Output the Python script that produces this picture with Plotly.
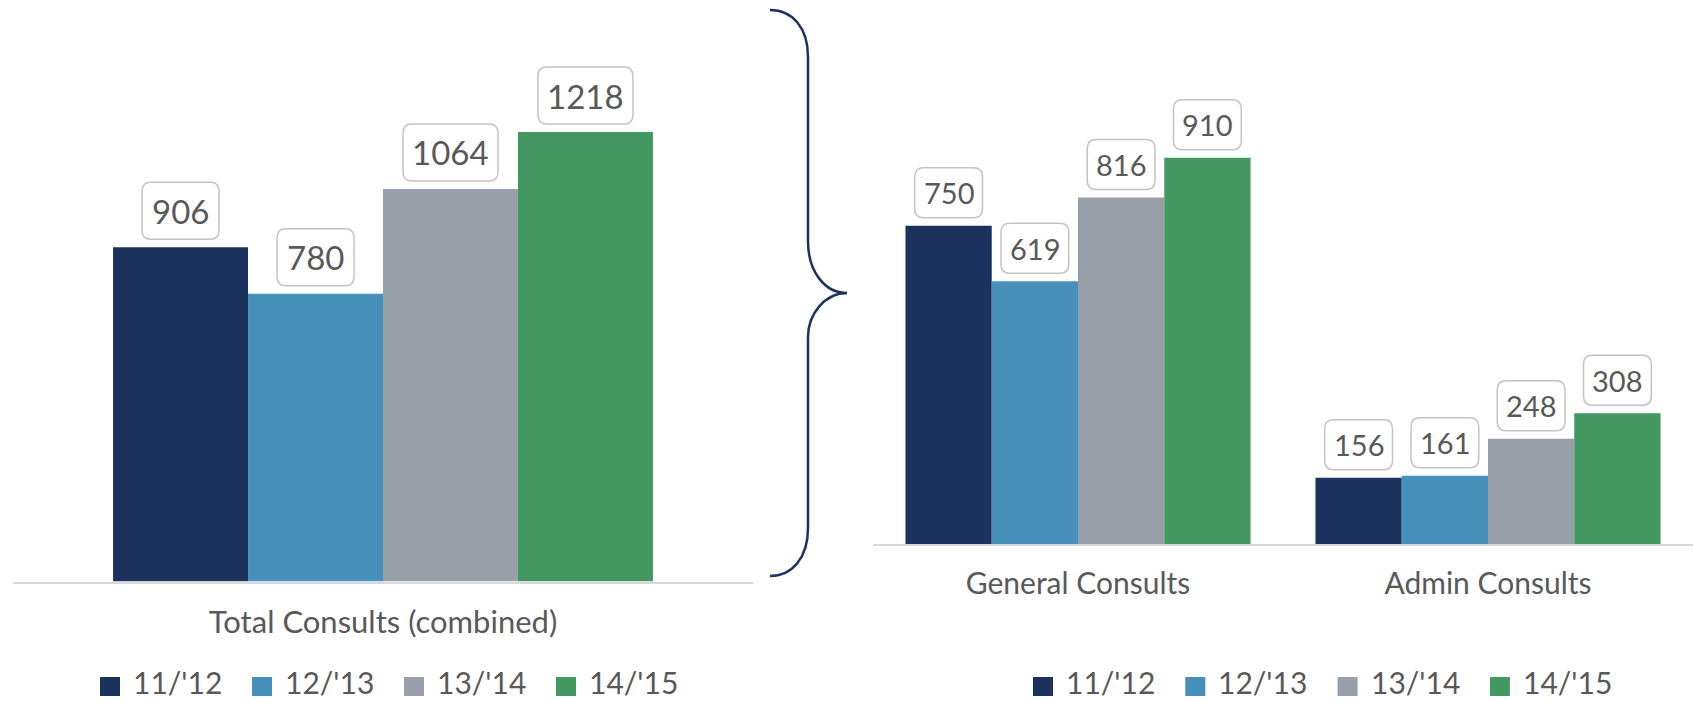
import plotly.graph_objects as go

# ---------------- data ----------------
series = ["11/'12", "12/'13", "13/'14", "14/'15"]
colors = ["#1b325f", "#4690b9", "#989fa8", "#439760"]

total_categories = ["Total Consults (combined)"]
total_values = [906, 780, 1064, 1218]          # one per series

split_categories = ["General Consults", "Admin Consults"]
general_values = [750, 619, 816, 910]          # one per series
admin_values = [156, 161, 248, 308]            # one per series

# ---------------- layout constants ----------------
W, H = 1693, 702
FONT = "Lato, 'Open Sans', sans-serif"
TXT = "#595959"

def px_x(x):
    return x / W

def px_y(y):
    return 1 - y / H

wL = 0.1824   # bar width (data units) left panel
wR = 0.2104   # bar width (data units) right panel

fig = go.Figure()

# left panel bars
for i, name in enumerate(series):
    fig.add_trace(go.Bar(
        x=[0], y=[total_values[i]], name=name,
        width=wL, offset=-2 * wL + i * wL,
        marker=dict(color=colors[i], line=dict(width=0)),
        xaxis="x", yaxis="y", showlegend=False, hoverinfo="skip",
    ))

# right panel bars
for i, name in enumerate(series):
    fig.add_trace(go.Bar(
        x=[0, 1], y=[general_values[i], admin_values[i]], name=name,
        width=wR, offset=-2 * wR + i * wR,
        marker=dict(color=colors[i], line=dict(width=0)),
        xaxis="x2", yaxis="y2", showlegend=False, hoverinfo="skip",
    ))

shapes = []
annotations = []

def rounded_box(hw, g, bh, r):
    return (f"M{-hw + r},{g} L{hw - r},{g} Q{hw},{g} {hw},{g + r} "
            f"L{hw},{g + bh - r} Q{hw},{g + bh} {hw - r},{g + bh} "
            f"L{-hw + r},{g + bh} Q{-hw},{g + bh} {-hw},{g + bh - r} "
            f"L{-hw},{g + r} Q{-hw},{g} {-hw + r},{g} Z")

def add_label(xref, yref, cx, val, font_size, box_h, pad, digit_w, gap):
    txt = str(val)
    bw = pad + digit_w * len(txt)
    shapes.append(dict(
        type="path", xref=xref, yref=yref,
        xsizemode="pixel", ysizemode="pixel",
        xanchor=cx, yanchor=val,
        path=rounded_box(bw / 2, gap, box_h, 9),
        fillcolor="white", line=dict(color="#c4c4c4", width=1.5),
        layer="above",
    ))
    annotations.append(dict(
        x=cx, y=val, xref=xref, yref=yref, text=txt, showarrow=False,
        yshift=gap + box_h / 2, yanchor="middle", xanchor="center",
        font=dict(family=FONT, size=font_size, color=TXT),
    ))

for i in range(len(series)):
    cx = 0 - 2 * wL + i * wL + wL / 2
    add_label("x", "y", cx, total_values[i], 33, 57, 23, 18, 8)

for c, vals in enumerate([general_values, admin_values]):
    for i in range(len(series)):
        cx = c - 2 * wR + i * wR + wR / 2
        add_label("x2", "y2", cx, vals[i], 29, 50, 21, 15.6, 8)

# brace
brace_pts = [
    ("M", [(770, 10)]),
    ("C", [(792, 10), (808, 27), (808, 57)]),
    ("L", [(808, 241)]),
    ("C", [(808, 272), (825, 293), (847, 293)]),
    ("C", [(825, 293), (808, 314), (808, 337)]),
    ("L", [(808, 528)]),
    ("C", [(808, 558), (792, 576), (770, 576)]),
]
path = " ".join(cmd + " ".join(f"{px_x(x):.5f},{px_y(y):.5f}" for x, y in pts)
                for cmd, pts in brace_pts)
shapes.append(dict(type="path", xref="paper", yref="paper", path=path,
                   line=dict(color="#1b325f", width=2.5)))

# custom legends
def add_legend(x_start, spacing):
    for i, name in enumerate(series):
        x0 = x_start + i * spacing
        shapes.append(dict(type="rect", xref="paper", yref="paper",
                           x0=px_x(x0), x1=px_x(x0 + 20),
                           y0=px_y(696), y1=px_y(677),
                           fillcolor=colors[i], line=dict(width=0)))
        annotations.append(dict(x=px_x(x0 + 31), y=0, xref="paper", yref="paper",
                                text=name, showarrow=False, xanchor="left", yanchor="bottom",
                                font=dict(family=FONT, size=30, color=TXT)))

add_legend(100, 152)
add_legend(1033, 152.3)

axis_common = dict(showgrid=False, zeroline=False, showline=True,
                   linecolor="#d9d9d9", linewidth=2, ticks="",
                   automargin=False, fixedrange=True)
yaxis_common = dict(showgrid=False, zeroline=False, showline=False,
                    showticklabels=False, automargin=False, fixedrange=True)

fig.update_layout(
    width=W, height=H,
    margin=dict(l=0, r=0, t=0, b=0),
    paper_bgcolor="white", plot_bgcolor="white",
    showlegend=False,
    barmode="overlay",
    xaxis=dict(domain=[px_x(13), px_x(753)], range=[-0.5, 0.5],
               tickvals=[0], ticktext=total_categories,
               tickfont=dict(family=FONT, size=31, color=TXT),
               ticklabelstandoff=12, **axis_common),
    yaxis=dict(domain=[px_y(581.5), 1.0], range=[0, 581.5 / 0.369], **yaxis_common),
    xaxis2=dict(domain=[px_x(873), 1.0], range=[-0.5, 1.5],
                tickvals=[0, 1], ticktext=split_categories,
                tickfont=dict(family=FONT, size=30, color=TXT),
                ticklabelstandoff=12, anchor="y2", **axis_common),
    yaxis2=dict(domain=[px_y(544), 1.0], range=[0, 544 / 0.4245], anchor="x2",
                **yaxis_common),
    shapes=shapes,
    annotations=annotations,
)

fig.write_html("out.html")
